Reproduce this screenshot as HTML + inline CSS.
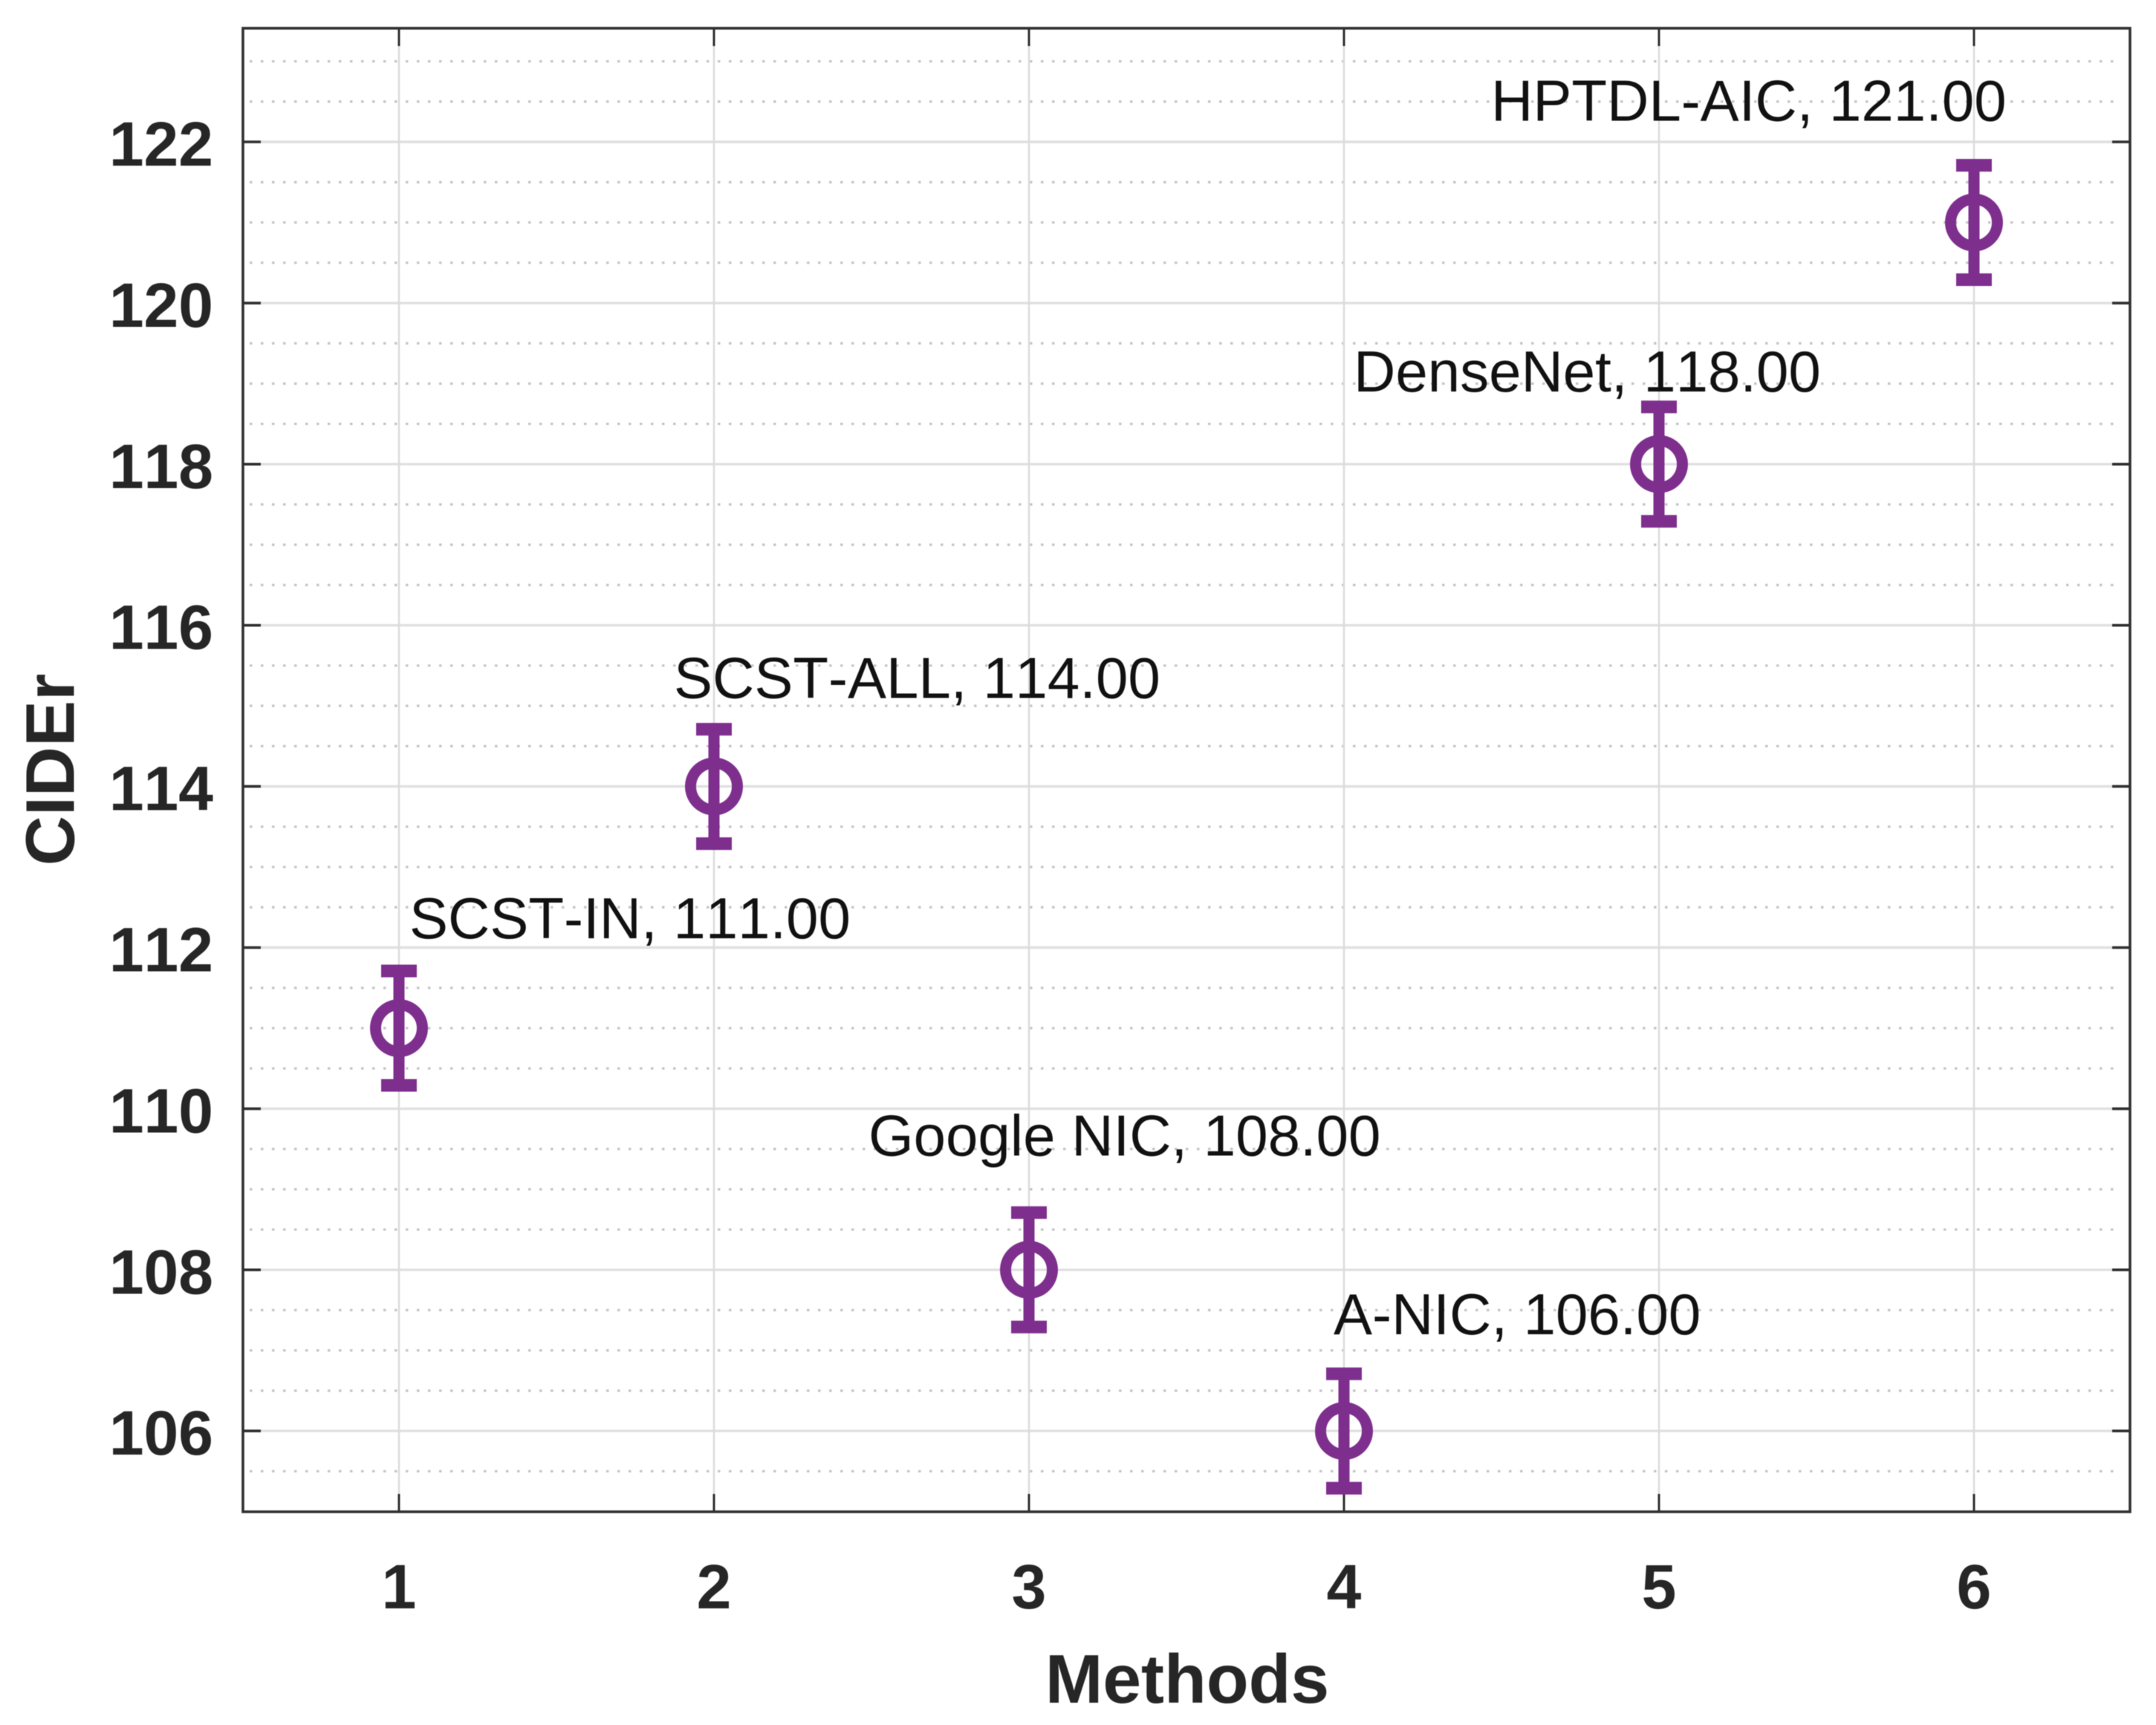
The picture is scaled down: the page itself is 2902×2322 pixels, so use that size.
<!DOCTYPE html>
<html lang="en">
<head>
<meta charset="utf-8">
<title>CIDEr by method</title>
<style>
html,body{margin:0;padding:0;background:#fff;}
svg{display:block;filter:blur(0.6px);}
text{font-family:"Liberation Sans",Arial,sans-serif;font-kerning:none;}
</style>
</head>
<body>
<svg id="chart" xmlns="http://www.w3.org/2000/svg" width="2902" height="2322" viewBox="0 0 2902 2322"></svg>
<script>
const methods = ["SCST-IN", "SCST-ALL", "Google NIC", "A-NIC", "DenseNet", "HPTDL-AIC"];
const xValues = [1, 2, 3, 4, 5, 6];
const ciderValues = [111, 114, 108, 106, 118, 121];
const errorValues = [0.71, 0.71, 0.71, 0.71, 0.71, 0.71];
const xTickLabels = [1, 2, 3, 4, 5, 6];
const yTickLabels = [106, 108, 110, 112, 114, 116, 118, 120, 122];
const yMinorTicks = [105.5, 106.5, 107, 107.5, 108.5, 109, 109.5, 110.5, 111, 111.5, 112.5, 113, 113.5, 114.5, 115, 115.5, 116.5, 117, 117.5, 118.5, 119, 119.5, 120.5, 121, 121.5, 122.5, 123];

const SVGNS = "http://www.w3.org/2000/svg";
const chart = document.getElementById("chart");
const plot = { left: 327, right: 2867, top: 38, bottom: 2035 };
const xScale = v => 537 + (v - 1) * 424;
const yScale = v => 191 + (122 - v) * 108.45;
const labelNudge = {
  "SCST-IN": [14, -121],
  "SCST-ALL": [-54, -119],
  "Google NIC": [-216, -154],
  "A-NIC": [-14, -130],
  "DenseNet": [-411, -98],
  "HPTDL-AIC": [-650, -137]
};
const AXIS = "#303030", TEXT = "#262626", PURPLE = "#7E2F8E";

function make(tag, attrs, parent) {
  const el = document.createElementNS(SVGNS, tag);
  for (const k in attrs) el.setAttribute(k, attrs[k]);
  (parent || chart).appendChild(el);
  return el;
}

make("rect", { x: 0, y: 0, width: 2902, height: 2322, fill: "#fff" });

// minor horizontal grid
yMinorTicks.forEach(v => {
  const el = make("line", { x1: 336, x2: 2853, y1: yScale(v), y2: yScale(v), stroke: "#c4c4c4", "stroke-width": 3.2, "stroke-dasharray": "3.5 11.5" });
  
  
});

// major horizontal grid
yTickLabels.forEach(v => {
  const el = make("line", { x1: plot.left, x2: plot.right, y1: yScale(v), y2: yScale(v), stroke: "#e0e0e0", "stroke-width": 3.4 });
  
  
});

// vertical grid
xTickLabels.forEach(v => {
  const el = make("line", { x1: xScale(v), x2: xScale(v), y1: plot.top, y2: plot.bottom, stroke: "#dcdcdc", "stroke-width": 2.6 });
  
  
});

// axes box
const box = make("rect", { x: plot.left, y: plot.top, width: plot.right - plot.left, height: plot.bottom - plot.top, fill: "none", stroke: AXIS, "stroke-width": 3.6 });



// y ticks + labels
yTickLabels.forEach(v => {
  const y = yScale(v);
  const tl = make("line", { x1: plot.left, x2: plot.left + 24, y1: y, y2: y, stroke: AXIS, "stroke-width": 3.6 });
  
  
  const tr = make("line", { x1: plot.right, x2: plot.right - 24, y1: y, y2: y, stroke: AXIS, "stroke-width": 3.6 });
  
  
  const t = make("text", { x: 287, y: y + 32, "text-anchor": "end", "font-size": 84, "font-weight": "bold", fill: TEXT });
  t.textContent = v;
  
  
});

// x ticks + labels
xTickLabels.forEach(v => {
  const x = xScale(v);
  const tb = make("line", { x1: x, x2: x, y1: plot.bottom, y2: plot.bottom - 24, stroke: AXIS, "stroke-width": 3 });
  
  
  const tt = make("line", { x1: x, x2: x, y1: plot.top, y2: plot.top + 24, stroke: AXIS, "stroke-width": 3 });
  
  
  const t = make("text", { x: x, y: 2165, "text-anchor": "middle", "font-size": 84, "font-weight": "bold", fill: TEXT });
  t.textContent = v;
  
  
});

// data series: error bars, markers, labels
ciderValues.forEach((v, i) => {
  const x = xScale(xValues[i]);
  const y = yScale(v);
  const hi = yScale(v + errorValues[i]);
  const lo = yScale(v - errorValues[i]);
  const g = make("g", { fill: "none", stroke: PURPLE });
  
  
  const stem = make("line", { x1: x, x2: x, y1: hi, y2: lo, "stroke-width": 15 }, g);
  
  
  const capTop = make("line", { x1: x - 24, x2: x + 24, y1: hi, y2: hi, "stroke-width": 17 }, g);
  
  
  const capBottom = make("line", { x1: x - 24, x2: x + 24, y1: lo, y2: lo, "stroke-width": 17 }, g);
  
  
  const ring = make("circle", { cx: x, cy: y, r: 31.5, "stroke-width": 15 }, g);
  
  
  const nudge = labelNudge[methods[i]] || [0, -120];
  const label = make("text", { x: x + nudge[0], y: y + nudge[1], "font-size": 78, fill: "#111" });
  label.textContent = methods[i] + ", " + v.toFixed(2);
  
  
});
</script>
<script>
const xTitle = document.createElementNS("http://www.w3.org/2000/svg", "text");
xTitle.setAttribute("x", "1598");
xTitle.setAttribute("y", "2292");
xTitle.setAttribute("text-anchor", "middle");
xTitle.setAttribute("font-size", "93");
xTitle.setAttribute("font-weight", "bold");
xTitle.setAttribute("fill", "#262626");
xTitle.textContent = "Methods";


document.getElementById("chart").appendChild(xTitle);

const yTitle = document.createElementNS("http://www.w3.org/2000/svg", "text");
yTitle.setAttribute("transform", "translate(99.5 1036) rotate(-90)");
yTitle.setAttribute("text-anchor", "middle");
yTitle.setAttribute("font-size", "93");
yTitle.setAttribute("font-weight", "bold");
yTitle.setAttribute("fill", "#262626");
yTitle.textContent = "CIDEr";


document.getElementById("chart").appendChild(yTitle);
</script>
</body>
</html>
